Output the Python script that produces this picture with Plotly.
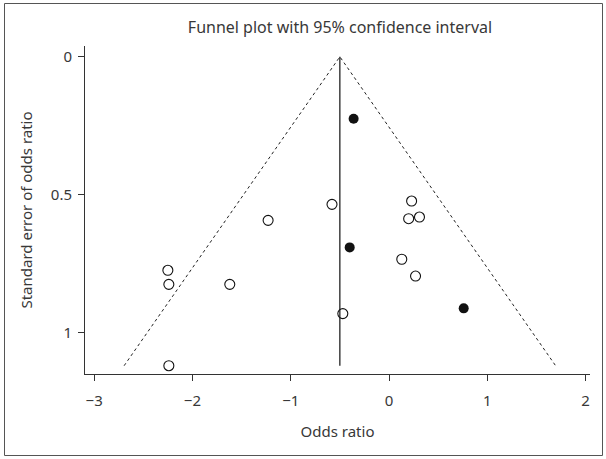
import plotly.graph_objects as go

# Study estimates (log odds ratio) and standard errors
or_open = [-0.58, -1.23, -2.25, -2.24, -1.62, -0.47, -2.24, 0.23, 0.20, 0.31, 0.13, 0.27]
se_open = [0.535, 0.593, 0.774, 0.825, 0.825, 0.931, 1.12, 0.523, 0.587, 0.581, 0.734, 0.795]
or_filled = [-0.36, -0.40, 0.76]
se_filled = [0.225, 0.691, 0.912]

pooled = -0.5
se_max = 1.12
z95 = 1.96

x_ticks = [-3, -2, -1, 0, 1, 2]
y_ticks = [0, 0.5, 1]
y_ticklabels = ["0", "0.5", "1"]

title_text = "Funnel plot with 95% confidence interval"
x_title = "Odds ratio"
y_title = "Standard error of odds ratio"

FONT = "Noto Sans"
TXT = "#383838"

fig = go.Figure()

# funnel (95% CI) lines
fig.add_trace(go.Scatter(
    x=[pooled - z95 * se_max, pooled, pooled + z95 * se_max],
    y=[se_max, 0, se_max],
    mode="lines", line=dict(color="#222222", width=1, dash="dot"),
    hoverinfo="skip", showlegend=False))
# pooled estimate vertical line
fig.add_trace(go.Scatter(
    x=[pooled, pooled], y=[0, se_max],
    mode="lines", line=dict(color="#111111", width=1.2),
    hoverinfo="skip", showlegend=False))

fig.add_trace(go.Scatter(
    x=or_open, y=se_open, mode="markers",
    marker=dict(symbol="circle-open", size=10, color="#111111", line=dict(width=1.1)),
    showlegend=False))
fig.add_trace(go.Scatter(
    x=or_filled, y=se_filled, mode="markers",
    marker=dict(symbol="circle", size=10, color="#111111"),
    showlegend=False))

L, R, T, B = 85, 16, 46, 85
W, H = 606, 459
pw, ph = W - L - R, H - T - B

def px2paper_x(px):
    return (px - L) / pw

def px2paper_y(py):
    return (H - B - py) / ph

fig.add_shape(type="rect", xref="paper", yref="paper",
              x0=px2paper_x(4.5), x1=px2paper_x(602.5),
              y0=px2paper_y(455.5), y1=px2paper_y(3.5),
              line=dict(color="#555555", width=1), layer="below")

fig.update_layout(
    width=W, height=H,
    margin=dict(l=L, r=R, t=T, b=B),
    paper_bgcolor="white", plot_bgcolor="white",
    font=dict(family=FONT, size=15, color=TXT),
    title=dict(text=title_text, x=340 / W, xanchor="center",
               y=1 - 27 / H, yanchor="middle",
               font=dict(family=FONT, size=16, color=TXT)),
)

fig.update_xaxes(
    range=[-3.093, 2.045], tickvals=x_ticks,
    showgrid=False, zeroline=False,
    showline=True, linecolor="#333333", linewidth=1,
    ticks="outside", ticklen=6, tickcolor="#333333",
    ticklabelstandoff=7,
    tickfont=dict(family=FONT, size=15, color=TXT),
    title=dict(text=x_title, standoff=17, font=dict(family=FONT, size=15, color=TXT)),
)
fig.update_yaxes(
    range=[1.15, -0.039], tickvals=y_ticks, ticktext=y_ticklabels,
    showgrid=False, zeroline=False,
    showline=True, linecolor="#333333", linewidth=1,
    ticks="outside", ticklen=6, tickcolor="#333333",
    ticklabelstandoff=3,
    tickfont=dict(family=FONT, size=15, color=TXT),
    title=dict(text=y_title, standoff=14, font=dict(family=FONT, size=15, color=TXT)),
)

fig.write_html("out.html", config={"displayModeBar": False},
               post_script="document.body.style.margin='0px';")
